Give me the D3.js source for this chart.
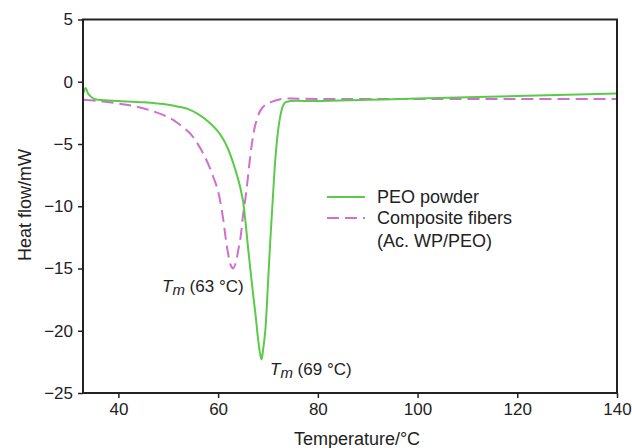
<!DOCTYPE html>
<html>
<head>
<meta charset="utf-8">
<style>
  body { margin: 0; background: #fff; }
  svg text { font-family: "Liberation Sans", Arial, sans-serif; fill: #222; }
</style>
</head>
<body>
<div id="chart"></div>
<script src="https://cdn.jsdelivr.net/npm/d3@7"></script>
<script>
  // Temperature (°C) and heat flow (mW)
  const peoTemp = [33, 33.4, 34, 35, 36, 38, 40, 45, 50, 52, 54, 56, 58, 60, 61, 62, 63, 64, 64.5, 65, 65.5, 66, 66.5, 67, 67.5, 68, 68.4, 68.7, 69, 69.5, 70, 70.5, 71, 71.3, 71.6, 72, 72.5, 73, 73.5, 74.5, 80, 90, 100, 110, 120, 130, 140];
  const peoFlow = [-0.9, -0.5, -1.0, -1.35, -1.45, -1.5, -1.55, -1.65, -1.85, -2.0, -2.2, -2.6, -3.2, -4.0, -4.6, -5.4, -6.5, -7.8, -8.6, -9.6, -11.3, -13.3, -15.2, -17, -18.7, -20.6, -21.8, -22.3, -21.6, -19.8, -16.2, -12.5, -9.2, -7.2, -5.6, -4.0, -2.7, -1.95, -1.65, -1.55, -1.55, -1.45, -1.35, -1.25, -1.15, -1.05, -0.95];

  const fiberTemp = [33, 36, 40, 43, 46, 50, 52, 54, 55, 56, 57, 58, 59, 60, 61, 61.5, 62, 62.5, 63, 63.5, 64, 64.5, 65, 65.5, 66, 66.5, 67, 67.5, 68.5, 69.5, 70.5, 72.5, 80, 100, 120, 140];
  const fiberFlow = [-1.45, -1.55, -1.75, -1.95, -2.25, -2.85, -3.35, -4.0, -4.45, -5.05, -5.75, -6.6, -7.6, -8.8, -11.0, -12.5, -13.8, -14.7, -15, -14.6, -13.6, -12.5, -10.7, -9.3, -7.6, -5.8, -4.4, -3.4, -2.3, -1.85, -1.65, -1.4, -1.38, -1.38, -1.38, -1.38];

  const xTicks = [40, 60, 80, 100, 120, 140];
  const yTicks = [-25, -20, -15, -10, -5, 0, 5];

  const width = 632;
  const height = 448;

  const svg = d3.select('#chart')
    .append('svg')
    .attr('width', width)
    .attr('height', height);

  const x = d3.scaleLinear().domain([32.9, 140]).range([83, 617]);
  const y = d3.scaleLinear().domain([-25, 5]).range([393, 19.5]);

  // curves
  const line = d3.line()
    .x((d) => x(d[0]))
    .y((d) => y(d[1]))
    .curve(d3.curveCatmullRom.alpha(0.5));

  svg.append('path')
    .datum(fiberTemp.map((t, i) => [t, fiberFlow[i]]))
    .attr('fill', 'none')
    .attr('stroke', '#cf6fcf')
    .attr('stroke-width', 2)
    .attr('stroke-dasharray', '12,6')
    .attr('d', line);

  svg.append('path')
    .datum(peoTemp.map((t, i) => [t, peoFlow[i]]))
    .attr('fill', 'none')
    .attr('stroke', '#5acb48')
    .attr('stroke-width', 2)
    .attr('d', line);

  // frame
  svg.append('rect')
    .attr('x', x.range()[0])
    .attr('y', y.range()[1])
    .attr('width', x.range()[1] - x.range()[0])
    .attr('height', y.range()[0] - y.range()[1])
    .attr('fill', 'none')
    .attr('stroke', '#222')
    .attr('stroke-width', 2);

  const xAxis = svg.append('g')
    .attr('transform', `translate(0, ${y.range()[0]})`)
    .call(d3.axisBottom(x).tickValues(xTicks).tickSize(5).tickPadding(5));

  const yAxis = svg.append('g')
    .attr('transform', `translate(${x.range()[0]}, 0)`)
    .call(d3.axisLeft(y).tickValues(yTicks).tickSize(5).tickPadding(5));

  [xAxis, yAxis].forEach((g) => {
    g.select('.domain').remove();
    g.selectAll('.tick line').attr('stroke', '#222').attr('stroke-width', 1.5);
    g.selectAll('.tick text')
      .attr('font-size', 17)
      .attr('font-family', '"Liberation Sans", Arial, sans-serif')
      .attr('fill', '#222');
  });

  // axis titles
  svg.append('text')
    .attr('x', 357)
    .attr('y', 445)
    .attr('text-anchor', 'middle')
    .attr('font-size', 18)
    .text('Temperature/°C');

  svg.append('text')
    .attr('transform', 'translate(31, 205) rotate(-90)')
    .attr('text-anchor', 'middle')
    .attr('font-size', 18)
    .text('Heat flow/mW');

  // legend
  const legend = svg.append('g');
  legend.append('line')
    .attr('x1', 327).attr('x2', 365).attr('y1', 197).attr('y2', 197)
    .attr('stroke', '#5acb48').attr('stroke-width', 2);
  legend.append('line')
    .attr('x1', 327).attr('x2', 365).attr('y1', 218).attr('y2', 218)
    .attr('stroke', '#cf6fcf').attr('stroke-width', 2)
    .attr('stroke-dasharray', '12,6');
  legend.append('text').attr('x', 377).attr('y', 203).attr('font-size', 18).text('PEO powder');
  legend.append('text').attr('x', 377).attr('y', 224).attr('font-size', 18).text('Composite fibers');
  legend.append('text').attr('x', 377).attr('y', 247).attr('font-size', 18).text('(Ac. WP/PEO)');

  // peak labels
  function tmLabel(px, py, temp) {
    const t = svg.append('text').attr('x', px).attr('y', py).attr('font-size', 17);
    t.append('tspan').attr('font-style', 'italic').text('T');
    t.append('tspan').attr('font-style', 'italic').attr('font-size', 15).attr('dy', 3).text('m');
    t.append('tspan').attr('dy', -3).text(` (${temp} °C)`);
  }
  tmLabel(162, 292, 63);
  tmLabel(270, 375, 69);
</script>
</body>
</html>
